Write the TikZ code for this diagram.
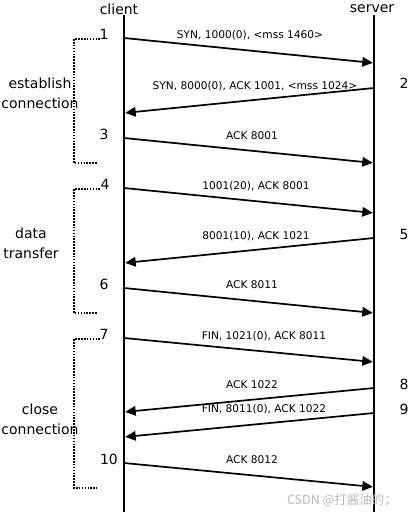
\documentclass[tikz,border=0pt]{standalone}
\usepackage{fontspec}
\setmainfont{DejaVu Sans}
\newfontfamily\cjkfont{Noto Sans CJK SC}
\usetikzlibrary{arrows.meta}
\begin{document}
\begin{tikzpicture}[x=1pt,y=-1pt,
  lifeline/.style={line width=2.3pt},
  msg/.style={line width=1.7pt,-{Triangle[length=10.5pt,width=9.5pt]}},
  msglabel/.style={inner sep=0pt,font=\fontsize{10.6}{12}\selectfont},
  biglabel/.style={inner sep=0pt,font=\fontsize{14}{20}\selectfont,align=center},
  numlabel/.style={inner sep=0pt,font=\fontsize{14}{16}\selectfont},
  phase/.style={line width=1.6pt,dash pattern=on 1.6pt off 1.3pt}]
\useasboundingbox (0,0) rectangle (410,516);
% lifelines
\node[biglabel] (client) at (119,9) {client};
\node[biglabel] (server) at (372,9) {server};
\coordinate (ctop) at (124,15);
\coordinate (cbot) at (124,512);
\coordinate (stop) at (374,15);
\coordinate (sbot) at (374,512);
\draw[lifeline] (ctop) -- (cbot);
\draw[lifeline] (stop) -- (sbot);
% endpoints
\coordinate (c1) at (124,38);  \coordinate (s1) at (374,63);
\coordinate (s2) at (374,88);  \coordinate (c2) at (124,113);
\coordinate (c3) at (124,138); \coordinate (s3) at (374,163);
\coordinate (c4) at (124,188); \coordinate (s4) at (374,213);
\coordinate (s5) at (374,238); \coordinate (c5) at (124,263);
\coordinate (c6) at (124,288); \coordinate (s6) at (374,313);
\coordinate (c7) at (124,338); \coordinate (s7) at (374,362);
\coordinate (s8) at (374,388); \coordinate (c8) at (124,412);
\coordinate (s9) at (374,413); \coordinate (c9) at (124,437);
\coordinate (c10) at (124,463); \coordinate (s10) at (374,487);
% messages
\draw[msg,shorten >=1.2pt] (c1) -- (s1);
\draw[msg,shorten >=1.2pt] (s2) -- (c2);
\draw[msg,shorten >=1.2pt] (c3) -- (s3);
\draw[msg,shorten >=1.2pt] (c4) -- (s4);
\draw[msg,shorten >=1.2pt] (s5) -- (c5);
\draw[msg,shorten >=1.2pt] (c6) -- (s6);
\draw[msg,shorten >=1.2pt] (c7) -- (s7);
\draw[msg,shorten >=1.2pt] (s8) -- (c8);
\draw[msg,shorten >=1.2pt] (s9) -- (c9);
\draw[msg,shorten >=1.2pt] (c10) -- (s10);
% message labels
\node[msglabel] (m1) at (250,35) {SYN, 1000(0), <mss 1460>};
\node[msglabel] (m2) at (255,86) {SYN, 8000(0), ACK 1001, <mss 1024>};
\node[msglabel] (m3) at (252,136) {ACK 8001};
\node[msglabel] (m4) at (256,186) {1001(20), ACK 8001};
\node[msglabel] (m5) at (256,236) {8001(10), ACK 1021};
\node[msglabel] (m6) at (252,285) {ACK 8011};
\node[msglabel] (m7) at (264,336) {FIN, 1021(0), ACK 8011};
\node[msglabel] (m8) at (252,385) {ACK 1022};
\node[msglabel] (m9) at (264,409) {FIN, 8011(0), ACK 1022};
\node[msglabel] (m10) at (252,460) {ACK 8012};
% step numbers
\node[numlabel] (n1) at (104,34) {1};
\node[numlabel] (n2) at (404,83) {2};
\node[numlabel] (n3) at (104,134) {3};
\node[numlabel] (n4) at (105,184) {4};
\node[numlabel] (n5) at (404,234) {5};
\node[numlabel] (n6) at (104,284) {6};
\node[numlabel] (n7) at (104,334) {7};
\node[numlabel] (n8) at (404,384) {8};
\node[numlabel] (n9) at (404,409) {9};
\node[numlabel] (n10) at (109,459) {10};
% phase brackets
\coordinate (b1a) at (100,39); \coordinate (b1b) at (97,163);
\coordinate (b2a) at (100,189); \coordinate (b2b) at (97,313);
\coordinate (b3a) at (100,339); \coordinate (b3b) at (97,488);
\draw[phase] (b1a) -| (74,163) -- (b1b);
\draw[phase] (b2a) -| (74,313) -- (b2b);
\draw[phase] (b3a) -| (74,488) -- (b3b);
\node[biglabel] (p1) at (40,93) {establish\\connection};
\node[biglabel] (p2) at (31,243) {data\\transfer};
\node[biglabel] (p3) at (40,419) {close\\connection};
% watermark
\node[inner sep=0pt,text=black!28,font=\cjkfont\fontsize{12.5}{14}\selectfont] (wm) at (342,500) {CSDN @打酱油的；};
\end{tikzpicture}
\end{document}
